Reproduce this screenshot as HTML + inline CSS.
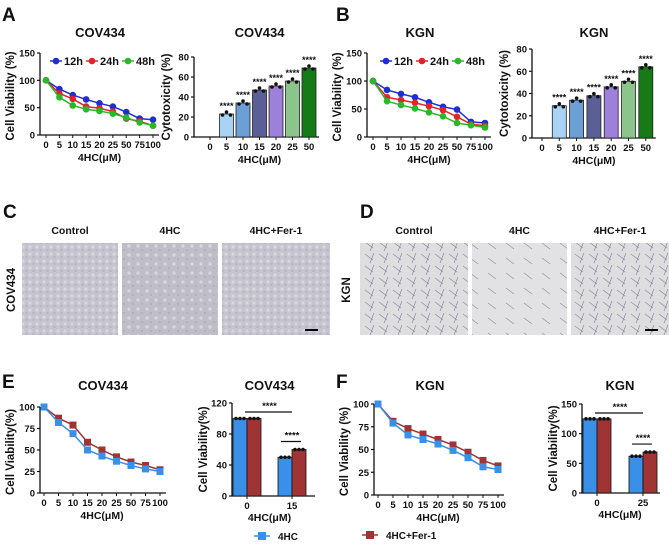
<!DOCTYPE html>
<html><head><meta charset="utf-8"><style>
body{margin:0;background:#fff;}
svg{display:block;font-family:"Liberation Sans",Arial,sans-serif;font-weight:bold;}
</style></head><body>
<svg id="fig" width="669" height="547" viewBox="0 0 669 547" xmlns="http://www.w3.org/2000/svg">
<defs>
<pattern id="cellsC" width="7" height="7" patternUnits="userSpaceOnUse"><rect width="7" height="7" fill="#c6c4ce"/><circle cx="2" cy="2" r="1.6" fill="#d8d6de"/><circle cx="5.5" cy="5" r="1.2" fill="#b6b4be"/></pattern>
<pattern id="cellsC2" width="9" height="9" patternUnits="userSpaceOnUse"><rect width="9" height="9" fill="#bfbdc8"/><circle cx="3" cy="3" r="1.7" fill="#d6d4dc"/><circle cx="7" cy="7" r="1" fill="#adabb6"/></pattern>
<pattern id="cellsD" width="14" height="12" patternUnits="userSpaceOnUse"><rect width="14" height="12" fill="#dedee0"/><path d="M1 2 L9 8 M10 1 L6 11" stroke="#8a8aa0" stroke-width="0.7"/></pattern>
<pattern id="cellsD2" width="18" height="15" patternUnits="userSpaceOnUse"><rect width="18" height="15" fill="#e2e2e4"/><path d="M2 3 L10 9" stroke="#9090a4" stroke-width="0.7"/></pattern>
</defs>
</svg>
<script>
const cats9=["0","5","10","15","20","25","50","75","100"];
const aV12=[100,84,73,65,58,52,42,30,28];
const aV24=[100,76,66,52,49,43,30,25,17];
const aV48=[100,69,54,47,44,39,32,23,17];
const bV12=[100,84,77,71,62,54,49,27,25];
const bV24=[100,71,66,61,55,48,36,23,20];
const bV48=[100,64,57,51,44,37,25,21,17];
const cats7=["0","5","10","15","20","25","50"];
const aCyto=[0,23,34,47,51,56,69];
const bCyto=[0,29,34,38,46,51,64];
const eBlue=[100,82,69,50,43,37,32,28,25];
const eRed=[100,87,79,59,50,42,36,32,27];
const fBlue=[100,79,66,61,56,49,41,31,28];
const fRed=[100,81,73,67,61,55,47,38,32];
const eBarCats=["0","15"];
const eBar4HC=[100,50];
const eBarFer=[100,60];
const fBarCats=["0","25"];
const fBar4HC=[125,62];
const fBarFer=[125,69];
const cytoColors=["#a9d3f5","#a9d3f5","#6c9fd6","#5b5f98","#9c80d9","#8cc58c","#167a16"];

const svg=document.getElementById('fig');
const NS="http://www.w3.org/2000/svg";
function el(tag,attrs,parent){const e=document.createElementNS(NS,tag);for(const k in attrs)e.setAttribute(k,attrs[k]);(parent||svg).appendChild(e);return e;}
function txt(x,y,s,size,parent,anchor,rot){const t=el('text',{x:x,y:y,'font-size':size,'text-anchor':anchor||'middle',fill:'#111'},parent);if(rot)t.setAttribute('transform','rotate(-90 '+x+' '+y+')');t.textContent=s;return t;}

function axes(g,x0,x1,yTop,yBot,ymax,ticks){
  el('line',{x1:x0,y1:yTop,x2:x0,y2:yBot,stroke:'#111','stroke-width':1.3},g);
  el('line',{x1:x0,y1:yBot,x2:x1,y2:yBot,stroke:'#111','stroke-width':1.3},g);
  ticks.forEach(v=>{const y=yBot-(v/ymax)*(yBot-yTop);
    el('line',{x1:x0-3,y1:y,x2:x0,y2:y,stroke:'#111','stroke-width':1.2},g);
    txt(x0-5,y+3.5,String(v),9.5,g,'end');});
}

function lineChart(name,opt){
  const g=el('g',{});
  const {ax,xa,xb,yTop,yBot,ymax,ticks,series,title,tx,ytitle,marker,n}=opt;
  axes(g,ax,xb+6,yTop,yBot,ymax,ticks);
  const xs=i=>xa+i*(xb-xa)/(n-1); const ys=v=>yBot-(v/ymax)*(yBot-yTop);
  cats9.forEach((c,i)=>{el('line',{x1:xs(i),y1:yBot,x2:xs(i),y2:yBot+3,stroke:'#111'},g);txt(xs(i),yBot+13,c,9.5,g);});
  series.forEach(s=>{
    const sg=el('g',{},g);
    el('polyline',{points:s.vals.map((v,i)=>xs(i)+','+ys(v)).join(' '),fill:'none',stroke:s.color,'stroke-width':1.5},sg);
    s.vals.forEach((v,i)=>{ if(marker==='sq') el('rect',{x:xs(i)-3.5,y:ys(v)-3.5,width:7,height:7,fill:s.color},sg); else el('circle',{cx:xs(i),cy:ys(v),r:3.3,fill:s.color},sg);});
  });
  txt(tx,37,title,13,g); if(opt.ty) g.lastChild.setAttribute('y',opt.ty);
  txt(ax-26,(yTop+yBot)/2+2,ytitle,11.5,g,'middle',true);
  txt((xa+xb)/2,yBot+26,"4HC(μM)",10.5,g);
  return g;
}

function cytoChart(name,ax,xa,step,yTop,yBot,vals,title){
  const g=el('g',{});
  axes(g,ax,xa+step*6+10,yTop,yBot,80,[0,20,40,60,80]);
  const ys=v=>yBot-(v/80)*(yBot-yTop);
  vals.forEach((v,i)=>{const cx=xa+i*step;
    el('line',{x1:cx,y1:yBot,x2:cx,y2:yBot+3,stroke:'#111'},g);txt(cx,yBot+13,cats7[i],9.5,g);
    if(v>0){const b=el('rect',{x:cx-7,y:ys(v),width:14,height:yBot-ys(v),fill:cytoColors[i],stroke:'#222','stroke-width':0.8},g);
      
      [-4,0,4].forEach((d,j)=>el('circle',{cx:cx+d,cy:ys(v)+(j===1?-2:1),r:1.8,fill:'#111'},g));
      txt(cx,ys(v)-5,"****",9,g);}
  });
  txt((xa+xa+6*step)/2,37,title,13,g);
  txt(ax-24,(yTop+yBot)/2,"Cytotoxicity (%)",11.5,g,'middle',true);
  txt(xa+3*step,yBot+26,"4HC(μM)",10.5,g);
}

function pairBar(name,ax,axEnd,yTop,yBot,ymax,ticks,cats,v1,v2,centers,title,sig){
  const g=el('g',{});
  axes(g,ax,axEnd,yTop,yBot,ymax,ticks);
  const ys=v=>yBot-(v/ymax)*(yBot-yTop);
  cats.forEach((c,i)=>{const cx=centers[i];
    el('line',{x1:cx,y1:yBot,x2:cx,y2:yBot+3,stroke:'#111'},g);txt(cx,yBot+13,c,9.5,g);
    [[v1[i],'#3a8fe8',cx-14],[v2[i],'#a03434',cx]].forEach(([v,col,x])=>{
      const b=el('rect',{x:x,y:ys(v),width:14,height:yBot-ys(v),fill:col,stroke:'#111','stroke-width':0.8},g);
      
      [-4,0,4].forEach(d=>el('circle',{cx:x+7+d,cy:ys(v),r:1.8,fill:'#111'},g));
    });
  });
  el('line',{x1:centers[0]-2,y1:yTop+9,x2:centers[1],y2:yTop+9,stroke:'#111','stroke-width':1.2},g);
  txt((centers[0]+centers[1])/2,yTop+6,"****",9.5,g);
  const hy=ys(Math.max(v1[1],v2[1]))-8;
  el('line',{x1:centers[1]-11,y1:hy,x2:centers[1]+9,y2:hy,stroke:'#111','stroke-width':1.2},g);
  txt(centers[1],hy-3,"****",9.5,g);
  txt((centers[0]+centers[1])/2,390,title,13,g);
  txt(ax-25,(yTop+yBot)/2,"Cell Viability(%)",11.5,g,'middle',true);
  txt((centers[0]+centers[1])/2,yBot+25,"4HC(μM)",10.5,g);
}

[["A",2,21],["B",336,21],["C",3,218],["D",360,218],["E",2,388],["F",336,388]].forEach(([l,x,y])=>{const t=txt(x,y,l,19,null,'start');});

lineChart('panel-a-line-chart',{ax:40,xa:46,xb:153,yTop:53,yBot:135,ymax:150,ticks:[0,50,100,150],n:9,title:"COV434",tx:100,ytitle:"Cell Viability (%)",series:[{name:'series-12h',vals:aV12,color:'#1f2fcf'},{name:'series-24h',vals:aV24,color:'#e0242a'},{name:'series-48h',vals:aV48,color:'#28b828'}]});
cytoChart('panel-a-cytotoxicity-chart',194,210,16.5,57,137,aCyto,"COV434");
lineChart('panel-b-line-chart',{ax:367,xa:373,xb:485,yTop:53,yBot:137,ymax:150,ticks:[0,50,100,150],n:9,title:"KGN",tx:420,ytitle:"Cell Viability (%)",series:[{name:'series-12h',vals:bV12,color:'#1f2fcf'},{name:'series-24h',vals:bV24,color:'#e0242a'},{name:'series-48h',vals:bV48,color:'#28b828'}]});
cytoChart('panel-b-cytotoxicity-chart',532,542,17.3,49,138,bCyto,"KGN");

function legend(x0,y){[["12h",'#1f2fcf'],["24h",'#e0242a'],["48h",'#28b828']].forEach(([l,c],i)=>{
  const g=el('g',{});
  const x=x0+i*36;el('line',{x1:x,y1:y,x2:x+12,y2:y,stroke:c,'stroke-width':1.5},g);el('circle',{cx:x+6,cy:y,r:3.3,fill:c},g);txt(x+14,y+4,l,11,g,'start');});}
legend(50,61);legend(380,61);

lineChart('panel-e-line-chart',{ax:40,xa:44,xb:160,yTop:407,yBot:493,ymax:100,ticks:[0,25,50,75,100],n:9,title:"COV434",tx:103,ty:390,ytitle:"Cell Viability(%)",marker:'sq',series:[{name:'series-4hc-fer1',vals:eRed,color:'#a03434'},{name:'series-4hc',vals:eBlue,color:'#3a8fe8'}]});
lineChart('panel-f-line-chart',{ax:374,xa:378,xb:498,yTop:404,yBot:495,ymax:100,ticks:[0,25,50,75,100],n:9,title:"KGN",tx:430,ty:390,ytitle:"Cell Viability (%)",marker:'sq',series:[{name:'series-4hc-fer1',vals:fRed,color:'#a03434'},{name:'series-4hc',vals:fBlue,color:'#3a8fe8'}]});
pairBar('panel-e-bar-chart',232,315,403,496,120,[0,40,80,120],eBarCats,eBar4HC,eBarFer,[247,292],"COV434");
pairBar('panel-f-bar-chart',582,660,404,493,150,[0,50,100,150],fBarCats,fBar4HC,fBarFer,[597,643],"KGN");

[["4HC",'#3a8fe8',254,536],["4HC+Fer-1",'#a03434',362,535]].forEach(([l,c,x,y])=>{
  const g=el('g',{});
  el('line',{x1:x,y1:y,x2:x+16,y2:y,stroke:c,'stroke-width':1.5},g);el('rect',{x:x+4,y:y-4,width:8,height:8,fill:c},g);txt(x+24,y+4,l,10,g,'start');});

function micro(name,x,y,w,h,fill,label){
  const g=el('g',{});
  el('rect',{x:x,y:y,width:w,height:h,fill:'url(#'+fill+')'},g);
  txt(x+w/2,y-9,label,10.5,g);
}
micro('cov434-control-image',22,243,96,92,'cellsC','Control');
micro('cov434-4hc-image',122,243,96,92,'cellsC2','4HC');
micro('cov434-4hc-fer1-image',222,243,108,92,'cellsC','4HC+Fer-1');
micro('kgn-control-image',360,243,108,92,'cellsD','Control');
micro('kgn-4hc-image',472,243,95,92,'cellsD2','4HC');
micro('kgn-4hc-fer1-image',571,243,98,92,'cellsD','4HC+Fer-1');
el('line',{x1:305,y1:330,x2:318,y2:330,stroke:'#000','stroke-width':2});
el('line',{x1:645,y1:330,x2:658,y2:330,stroke:'#000','stroke-width':2});
txt(15,290,"COV434",11.5,null,'middle',true);
txt(350,290,"KGN",11.5,null,'middle',true);
</script>
</body></html>
